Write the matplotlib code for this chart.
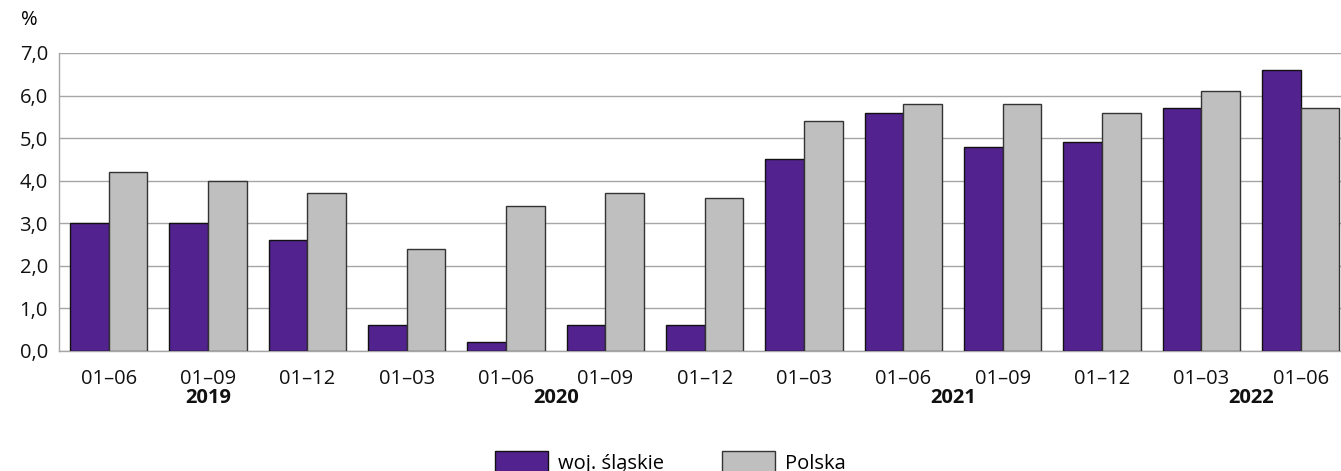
import numpy as np
import matplotlib.pyplot as plt

plt.rcParams['font.family'] = ['Open Sans', 'DejaVu Sans']

periods = ['01–06', '01–09', '01–12', '01–03', '01–06', '01–09', '01–12',
           '01–03', '01–06', '01–09', '01–12', '01–03', '01–06']
years = ['2019', '2020', '2021', '2022']
year_pos = [1, 4.5, 8.5, 11.5]
slaskie = [3.0, 3.0, 2.6, 0.6, 0.2, 0.6, 0.6, 4.5, 5.6, 4.8, 4.9, 5.7, 6.6]
polska = [4.2, 4.0, 3.7, 2.4, 3.4, 3.7, 3.6, 5.4, 5.8, 5.8, 5.6, 6.1, 5.7]

purple = '#52228f'
grey = '#bfbfbf'
fs = 14.5

fig = plt.figure(figsize=(13.41, 4.71), dpi=100)
ax = fig.add_axes([0.044, 0.2548, 0.963, 0.6327])

x = np.arange(len(periods))
w = 0.39
ax.bar(x - w/2, slaskie, w, color=purple, edgecolor='#111111', linewidth=1,
       label='woj. śląskie', zorder=3)
ax.bar(x + w/2, polska, w, color=grey, edgecolor='#333333', linewidth=1,
       label='Polska', zorder=3)

ax.set_xlim(-0.5, len(periods) - 0.5)
ax.set_ylim(0, 7)
yt = np.arange(0, 7.1, 1)
ax.set_yticks(yt)
ax.set_yticklabels([f'{v:.1f}'.replace('.', ',') for v in yt])
ax.set_xticks(x)
ax.set_xticklabels(periods)
ax.tick_params(axis='both', length=0, labelsize=fs, colors='#111111')
ax.tick_params(axis='x', pad=13)
ax.tick_params(axis='y', pad=8)
ax.yaxis.grid(True, color='#a6a6a6', linewidth=1, zorder=0)
for s in ['top', 'right']:
    ax.spines[s].set_visible(False)
for s in ['left', 'bottom']:
    ax.spines[s].set_color('#a6a6a6')
    ax.spines[s].set_linewidth(1)

# year labels under the period ticks
for yr, p in zip(years, year_pos):
    ax.annotate(yr, xy=(p, 0), xycoords=('data', 'axes fraction'),
                xytext=(0, -27), textcoords='offset points',
                ha='center', va='top', fontsize=fs, fontweight='bold',
                color='#111111')

fig.text(0.016, 0.957, '%', fontsize=fs, ha='left', va='center')

fig.legend(loc='center', bbox_to_anchor=(0.5, 0.018), ncol=2, frameon=False,
           fontsize=fs, handlelength=2.6, handleheight=1.2, columnspacing=2.9,
           handletextpad=0.5)

fig.savefig('out.png', dpi=100)
